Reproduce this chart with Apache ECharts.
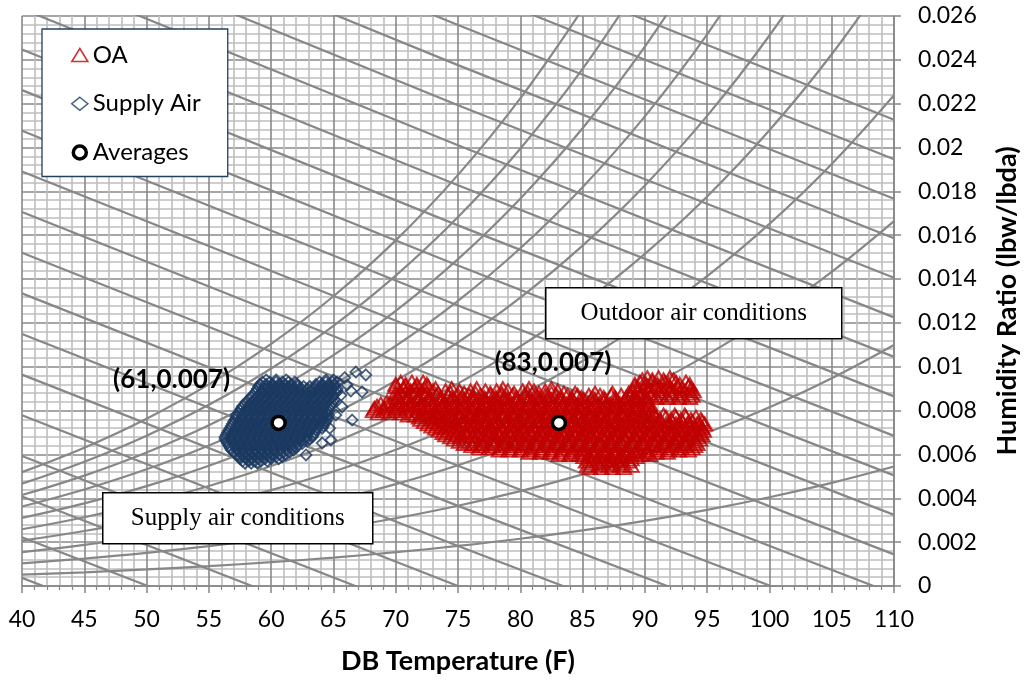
<!DOCTYPE html>
<html><head><meta charset="utf-8">
<script src="https://cdn.jsdelivr.net/npm/echarts@6/dist/echarts.min.js"></script>
<style>html,body{margin:0;padding:0;background:#fff}#c{width:1029px;height:681px}</style>
</head><body><div id="c"></div>
<script>
// ---------- Relative humidity curves (W in lbw/lbda at DB temps) ----------
const rhTemps = [40,45,50,55,60,65,70,75,80,85,90,95,100,105,110];
const rhLevels = [100,90,80,70,60,50,40,30,20,10];
const rh100 = [0.005195,0.006308,0.007631,0.009196,0.011043,0.013216,0.015767,0.018754,0.022244,0.026316];
const rh90 = [0.004671,0.005672,0.006859,0.008264,0.009921,0.011869,0.014154,0.016827,0.019948,0.023585,0.027816];
const rh80 = [0.004149,0.005036,0.006090,0.007335,0.008803,0.010528,0.012550,0.014913,0.017669,0.020877,0.024603,0.028927];
const rh70 = [0.003627,0.004402,0.005322,0.006409,0.007689,0.009192,0.010953,0.013010,0.015405,0.018191,0.021422,0.025165,0.029494];
const rh60 = [0.003106,0.003770,0.004556,0.005485,0.006579,0.007863,0.009365,0.011118,0.013158,0.015527,0.018272,0.021446,0.025110,0.029334];
const rh50 = [0.002587,0.003138,0.003792,0.004564,0.005473,0.006538,0.007785,0.009237,0.010927,0.012886,0.015152,0.017770,0.020786,0.024255,0.028240];
const rh40 = [0.002068,0.002508,0.003030,0.003646,0.004371,0.005220,0.006212,0.007368,0.008711,0.010266,0.012063,0.014135,0.016518,0.019254,0.022389];
const rh30 = [0.001549,0.001879,0.002270,0.002731,0.003272,0.003907,0.004648,0.005510,0.006510,0.007668,0.009004,0.010541,0.012307,0.014329,0.016642];
const rh20 = [0.001032,0.001252,0.001511,0.001818,0.002178,0.002599,0.003091,0.003662,0.004325,0.005091,0.005974,0.006988,0.008151,0.009480,0.010996];
const rh10 = [0.000516,0.000625,0.000755,0.000908,0.001087,0.001297,0.001541,0.001826,0.002155,0.002535,0.002973,0.003475,0.004049,0.004704,0.005450];
const rhCurves = [rh100,rh90,rh80,rh70,rh60,rh50,rh40,rh30,rh20,rh10];

// ---------- Enthalpy lines (Btu/lbda), W at 40, 75 and 110 F ----------
const hLevels = [10,12,14,16,18,20,22,24,26,28,30,32,34,36,38,40,42,44,46,48,50];
const hTemps = [40,75,110];
const hW40  = [0.000371,0.002225,0.004079,0.005933,0.007787,0.009641,0.011494,0.013348,0.015202,0.017056,0.018910,0.020764,0.022618,0.024472,0.026326,0.028180,0.030034,0.031888,0.033742,0.035596,0.037450];
const hW75  = [-0.007311,-0.005483,-0.003655,-0.001828,0,0.001828,0.003655,0.005483,0.007311,0.009138,0.010966,0.012793,0.014621,0.016449,0.018276,0.020104,0.021932,0.023759,0.025587,0.027415,0.029242];
const hW110 = [-0.014777,-0.012975,-0.011173,-0.009371,-0.007569,-0.005767,-0.003965,-0.002163,-0.000360,0.001442,0.003244,0.005046,0.006848,0.008650,0.010452,0.012254,0.014056,0.015858,0.017660,0.019462,0.021264];

// ---------- Outdoor air (OA) readings: rows of humidity ratio with DB temps ----------
const oaRowW = [0.0095,0.0094,0.0093,0.0092,0.0091,0.0090,0.0089,0.0088,0.0087,0.0086,0.0085,0.0084,0.0083,0.0082,0.0081,0.0080,0.0079,0.0078,0.0077,0.0076,0.0075,0.0074,0.0073,0.0072,0.0071,0.0070,0.0069,0.0068,0.0067,0.0066,0.0065,0.0064,0.0063,0.0062,0.0061,0.0060,0.0059,0.0058,0.0057,0.0056,0.0055,0.0054];
const oaRowT = [
 [90.2,91.1,92.0],
 [89.8,90.6,91.5,92.3],
 [70.4,71.3,72.2,89.6,90.6,91.6,92.5,93.3],
 [70.0,70.8,71.7,72.5,89.2,90.1,91.0,91.9,92.8,93.6],
 [70.0,70.8,71.7,72.6,89.2,90.0,90.9,91.8,92.6,93.5],
 [70.6,71.5,72.3,73.2,74.5,76.5,78.6,80.7,82.5,89.5,90.4,91.3,92.1,93.0,93.7],
 [70.3,71.2,72.1,73.0,74.0,75.1,76.0,77.2,78.1,79.0,80.2,81.1,82.0,83.0,89.0,89.8,90.7,91.5,92.4,93.2,93.9],
 [70.0,70.8,71.6,72.5,73.4,74.4,75.5,76.4,77.6,78.5,79.5,80.6,81.5,82.5,83.5,84.4,86.0,87.4,88.7,89.4,90.3,91.1,92.0,92.8,93.6],
 [70.6,71.5,72.4,73.3,74.2,75.0,75.9,76.8,77.6,78.5,79.4,80.3,81.2,82.0,82.9,83.8,84.6,85.5,86.4,87.3,88.1,88.9,89.7,90.5,91.3,92.2,93.0,93.8],
 [70.1,70.9,71.8,72.7,73.6,74.5,75.3,76.2,77.1,78.0,78.8,79.7,80.6,81.5,82.3,83.2,84.1,84.9,85.8,86.7,87.6,88.5,89.3,90.1,90.9,91.8,92.7,93.6],
 [70.2,71.0,71.9,72.8,73.7,74.6,75.5,76.3,77.2,78.1,79.0,79.8,80.7,81.6,82.5,83.3,84.2,85.1,86.0,86.8,87.7,88.5,89.3,90.1],
 [69.3,70.0,70.9,71.8,72.7,73.6,74.4,75.3,76.2,77.1,77.9,78.8,79.7,80.6,81.5,82.3,83.2,84.1,84.9,85.8,86.7,87.6,88.4,89.3,90.1],
 [68.8,69.6,70.5,71.4,72.3,73.2,74.0,74.9,75.8,76.7,77.5,78.4,79.3,80.2,81.1,81.9,82.8,83.7,84.6,85.4,86.3,87.2,88.0,88.9,89.7,90.4],
 [68.5,69.3,70.2,71.1,72.0,72.9,73.7,74.6,75.5,76.4,77.2,78.1,79.0,79.9,80.7,81.6,82.5,83.4,84.2,85.1,86.0,86.9,87.7,88.6,89.5,90.3],
 [68.3,69.1,70.0,70.9,71.8,72.7,73.6,74.4,75.3,76.2,77.0,77.9,78.8,79.7,80.6,81.4,82.3,83.2,84.1,84.9,85.8,86.7,87.6,88.4,89.3,90.1],
 [68.2,69.0,69.9,70.8,71.7,72.6,73.4,74.3,75.2,76.1,76.9,77.8,78.7,79.6,80.4,81.3,82.2,83.1,83.9,84.8,85.7,86.6,87.4,88.3,89.2,90.0,90.6],
 [68.6,69.5,70.4,71.3,72.2,73.1,73.9,74.8,75.7,76.6,77.4,78.3,79.2,80.1,81.0,81.8,82.7,83.6,84.5,85.3,86.2,87.1,88.0,88.8,89.6,90.4],
 [71.0,71.6,72.4,73.3,74.2,75.1,75.9,76.8,77.7,78.6,79.4,80.3,81.2,82.1,82.9,83.8,84.7,85.6,86.4,87.3,88.2,89.0,89.9,90.7,91.5,92.4,93.2],
 [71.9,72.7,73.5,74.4,75.2,76.1,77.0,77.9,78.7,79.6,80.5,81.4,82.2,83.1,84.0,84.8,85.7,86.6,87.5,88.3,89.2,90.0,90.9,91.7,92.5,93.3,94.1],
 [72.0,72.9,73.8,74.6,75.5,76.4,77.3,78.1,79.0,79.9,80.8,81.6,82.5,83.4,84.3,85.1,86.0,86.9,87.8,88.6,89.5,90.4,91.2,92.1,92.9,93.7,94.5],
 [72.3,73.1,74.0,74.8,75.7,76.6,77.4,78.3,79.2,80.1,80.9,81.8,82.7,83.5,84.4,85.3,86.2,87.0,87.9,88.8,89.6,90.5,91.3,92.2,93.0,93.8,94.6],
 [72.6,73.4,74.3,75.2,76.0,76.9,77.8,78.7,79.5,80.4,81.3,82.1,83.0,83.9,84.8,85.6,86.5,87.4,88.2,89.1,90.0,90.8,91.7,92.5,93.4,94.2,94.8],
 [72.9,73.7,74.6,75.4,76.3,77.2,78.0,78.9,79.8,80.6,81.5,82.4,83.3,84.1,85.0,85.9,86.7,87.6,88.5,89.3,90.2,91.0,91.9,92.7,93.6,94.4],
 [73.2,74.0,74.9,75.8,76.6,77.5,78.4,79.2,80.1,81.0,81.8,82.7,83.6,84.4,85.3,86.2,87.0,87.9,88.8,89.6,90.5,91.3,92.2,93.0,93.9,94.6],
 [73.5,74.3,75.1,76.0,76.9,77.7,78.6,79.5,80.3,81.2,82.1,82.9,83.8,84.7,85.5,86.4,87.3,88.1,89.0,89.9,90.7,91.6,92.4,93.3,94.1,94.7],
 [73.8,74.6,75.5,76.4,77.2,78.1,79.0,79.8,80.7,81.6,82.4,83.3,84.2,85.0,85.9,86.8,87.6,88.5,89.4,90.2,91.1,91.9,92.8,93.6,94.4],
 [74.0,74.9,75.7,76.6,77.5,78.3,79.2,80.0,80.9,81.8,82.6,83.5,84.4,85.2,86.1,87.0,87.8,88.7,89.6,90.4,91.3,92.1,93.0,93.8,94.6],
 [74.4,75.2,76.1,77.0,77.8,78.7,79.6,80.4,81.3,82.2,83.0,83.9,84.8,85.6,86.5,87.4,88.2,89.1,90.0,90.8,91.7,92.5,93.4,94.2],
 [74.7,75.5,76.4,77.2,78.1,78.9,79.8,80.7,81.5,82.4,83.3,84.1,85.0,85.9,86.7,87.6,88.4,89.3,90.1,91.0,91.8,92.7,93.5,94.4],
 [75.1,75.9,76.8,77.7,78.5,79.4,80.2,81.1,82.0,82.8,83.7,84.6,85.4,86.3,87.1,88.0,88.9,89.7,90.6,91.4,92.3,93.1,94.0],
 [75.5,76.3,77.1,78.0,78.8,79.7,80.5,81.4,82.2,83.1,84.0,84.8,85.7,86.5,87.4,88.2,89.1,90.0,90.8,91.7,92.5,93.4,94.2],
 [76.1,76.9,77.8,78.6,79.5,80.3,81.2,82.0,82.9,83.8,84.6,85.5,86.3,87.2,88.0,88.9,89.8,90.6,91.5,92.3,93.2,94.0],
 [76.7,77.5,78.4,79.2,80.1,80.9,81.8,82.6,83.5,84.4,85.2,86.1,86.9,87.8,88.6,89.5,90.4,91.2,92.1,92.9,93.8],
 [78.3,79.1,80.0,80.8,81.7,82.5,83.4,84.2,85.1,85.9,86.8,87.6,88.5,89.3,90.2,91.0,91.9,92.7,93.5],
 [80.7,81.6,82.4,83.3,84.1,85.0,85.8,86.7,87.5,88.4,89.2,90.1,90.9,91.8],
 [83.1,84.0,84.7,85.5,86.4,87.2,88.1,88.9,89.7,90.4],
 [85.1,85.9,86.8,87.6,88.5,89.3],
 [85.5,86.4,87.2,88.1,88.9],
 [85.3,86.1,87.0,87.8,88.7],
 [85.7,86.6,87.4,88.3],
 [85.4,86.3,87.1,88.0,88.9],
 [85.6,86.5,87.4,88.3]
];

// ---------- Supply air readings ----------
const saRowW = [0.0094,0.0093,0.0092,0.0091,0.0090,0.0089,0.0088,0.0087,0.0086,0.0085,0.0084,0.0083,0.0082,0.0081,0.0080,0.0079,0.0078,0.0077,0.0076,0.0075,0.0074,0.0073,0.0072,0.0071,0.0070,0.0069,0.0068,0.0067,0.0066,0.0065,0.0064,0.0063,0.0062,0.0061,0.0060,0.0059,0.0058,0.0057,0.0056];
const saRowT = [
 [59.6,60.4,61.2,64.4,65.0],
 [59.3,59.9,60.4,60.9,61.4,61.9,63.9,64.4,64.9,65.3],
 [59.1,59.6,60.1,60.6,61.1,61.6,62.1,63.6,64.1,64.6,65.1],
 [59.0,59.6,60.1,60.6,61.1,61.6,62.1,62.6,63.1,63.6,64.1,64.6,65.1],
 [58.9,59.4,59.9,60.4,60.9,61.4,61.9,62.4,62.9,63.4,63.9,64.4,64.9,65.3],
 [58.8,59.3,59.8,60.3,60.8,61.3,61.8,62.3,62.8,63.3,63.8,64.3,64.8,65.3],
 [58.7,59.2,59.7,60.2,60.7,61.2,61.7,62.2,62.7,63.2,63.7,64.2,64.7,65.2],
 [58.5,59.0,59.5,60.0,60.5,61.0,61.5,62.0,62.5,63.0,63.5,64.0,64.5,65.0],
 [58.4,58.9,59.4,59.9,60.4,60.9,61.4,61.9,62.4,62.9,63.4,63.9,64.4,64.9],
 [58.2,58.7,59.2,59.7,60.2,60.7,61.2,61.7,62.2,62.7,63.2,63.7,64.2,64.7,65.1],
 [58.0,58.5,59.0,59.5,60.0,60.5,61.0,61.5,62.0,62.5,63.0,63.5,64.0,64.5,65.0],
 [57.9,58.4,58.9,59.4,59.9,60.4,60.9,61.4,61.9,62.4,62.9,63.4,63.9,64.4,64.9],
 [57.7,58.2,58.7,59.2,59.7,60.2,60.7,61.2,61.7,62.2,62.7,63.2,63.7,64.2,64.8],
 [57.6,58.1,58.6,59.1,59.6,60.1,60.6,61.1,61.6,62.1,62.6,63.1,63.6,64.1,64.6],
 [57.5,58.0,58.5,59.0,59.5,60.0,60.5,61.0,61.5,62.0,62.5,63.0,63.5,64.0,64.5],
 [57.4,57.9,58.4,58.9,59.4,59.9,60.4,60.9,61.4,61.9,62.4,62.9,63.4,63.9,64.4],
 [57.2,57.7,58.2,58.7,59.2,59.7,60.2,60.7,61.2,61.7,62.2,62.7,63.2,63.7,64.2,64.6],
 [57.2,57.7,58.2,58.7,59.2,59.7,60.2,60.7,61.2,61.7,62.2,62.7,63.2,63.7,64.2,64.5],
 [57.1,57.6,58.1,58.6,59.1,59.6,60.1,60.6,61.1,61.6,62.1,62.6,63.1,63.6,64.1,64.5],
 [57.0,57.5,58.0,58.5,59.0,59.5,60.0,60.5,61.0,61.5,62.0,62.5,63.0,63.5,64.0,64.4],
 [56.9,57.4,57.9,58.4,58.9,59.4,59.9,60.4,60.9,61.4,61.9,62.4,62.9,63.4,63.9,64.3],
 [56.8,57.3,57.8,58.3,58.8,59.3,59.8,60.3,60.8,61.3,61.8,62.3,62.8,63.3,63.8,64.2],
 [56.7,57.2,57.7,58.2,58.7,59.2,59.7,60.2,60.7,61.2,61.7,62.2,62.7,63.2,63.7,64.1],
 [56.6,57.1,57.6,58.1,58.6,59.1,59.6,60.1,60.6,61.1,61.6,62.1,62.6,63.1,63.6],
 [56.5,57.0,57.5,58.0,58.5,59.0,59.5,60.0,60.5,61.0,61.5,62.0,62.5,63.0,63.5],
 [56.4,56.9,57.4,57.9,58.4,58.9,59.4,59.9,60.4,60.9,61.4,61.9,62.4,62.9,63.4],
 [56.3,56.8,57.3,57.8,58.3,58.8,59.3,59.8,60.3,60.8,61.3,61.8,62.3,62.8,63.3],
 [56.3,56.8,57.3,57.8,58.3,58.8,59.3,59.8,60.3,60.8,61.3,61.8,62.3,62.8,63.1],
 [56.4,56.9,57.4,57.9,58.4,58.9,59.4,59.9,60.4,60.9,61.4,61.9,62.4,62.9],
 [56.5,57.0,57.5,58.0,58.5,59.0,59.5,60.0,60.5,61.0,61.5,62.0,62.5],
 [56.6,57.1,57.6,58.1,58.6,59.1,59.6,60.1,60.6,61.1,61.6,62.1],
 [56.7,57.2,57.7,58.2,58.7,59.2,59.7,60.2,60.7,61.2,61.7,62.0],
 [56.8,57.3,57.8,58.3,58.8,59.3,59.8,60.3,60.8,61.3,61.8],
 [57.0,57.5,58.0,58.5,59.0,59.5,60.0,60.5,61.0,61.5],
 [57.2,57.7,58.2,58.7,59.2,59.7,60.2,60.7,61.2],
 [57.4,57.9,58.4,58.9,59.4,59.9,60.4,60.9],
 [57.5,58.0,58.5,59.0,59.5,60.0,60.6],
 [57.7,58.2,58.7,59.2,59.7],
 [57.9,58.4,58.9]
];
const saExtraT = [66.8,67.6,67.3,66.1,65.7,66.5,64.8,64.1,62.8,65.9,66.4,65.6,65.2,64.7];
const saExtraW = [0.00976,0.00963,0.00885,0.00917,0.00817,0.00757,0.00666,0.00652,0.00598,0.0095,0.0089,0.0087,0.0078,0.0072];

// ---------- Averages ----------
const avgT = [60.6,83.1];
const avgW = [0.00744,0.00744];

// ---------- build ----------
const LINE = '#878787';
const series = [];
rhCurves.forEach((arr,i)=>{
  series.push({type:'line', name:'RH '+rhLevels[i]+'%', data:arr.map((w,j)=>[rhTemps[j],w]),
    showSymbol:false, symbol:'none', smooth:0.4, silent:true, z:1,
    lineStyle:{color:LINE,width:2.2}});
});
hLevels.forEach((h,i)=>{
  series.push({type:'line', name:'h '+h, data:[[hTemps[0],hW40[i]],[hTemps[1],hW75[i]],[hTemps[2],hW110[i]]],
    showSymbol:false, symbol:'none', silent:true, z:1, lineStyle:{color:LINE,width:2.2}});
});
const oaData=[]; oaRowW.forEach((w,i)=>oaRowT[i].forEach(t=>oaData.push([t,w])));
const saData=[]; saRowW.forEach((w,i)=>saRowT[i].forEach(t=>saData.push([t,w])));
saExtraT.forEach((t,i)=>saData.push([t,saExtraW[i]]));
series.push({type:'scatter', name:'OA', data:oaData, symbol:'triangle', symbolSize:[15,13], z:3, silent:true,
  itemStyle:{color:'rgba(0,0,0,0)', borderColor:'#C00000', borderWidth:2}});
series.push({type:'scatter', name:'Supply Air', data:saData, symbol:'diamond', symbolSize:11, z:3, silent:true,
  itemStyle:{color:'rgba(0,0,0,0)', borderColor:'#1B3A61', borderWidth:1.8}});
const labelOffsets = [[-107,-43],[-6,-60]];
series.push({type:'scatter', name:'Averages', z:5, symbol:'circle', symbolSize:13, silent:true,
  itemStyle:{color:'#ffffff', borderColor:'#000000', borderWidth:3.5, opacity:1},
  data: avgT.map((t,i)=>({value:[t,avgW[i]], label:{offset:labelOffsets[i]}})),
  label:{show:true, position:'inside', fontSize:26, fontWeight:'bold', color:'#000', fontFamily:'Lato',
    formatter:p=>'('+Math.round(p.value[0])+','+p.value[1].toFixed(3)+')'}});

const AX = '#868686';
const option = {
  animation:false,
  textStyle:{fontFamily:'Lato'},
  grid:{left:22, top:16, width:874, height:570, containLabel:false},
  xAxis:{type:'value', min:40, max:110, interval:5,
    axisLine:{show:true, onZero:false, lineStyle:{color:AX,width:1.5}},
    axisTick:{show:true, length:7, lineStyle:{color:AX,width:1.5}},
    minorTick:{show:true, splitNumber:5, length:4, lineStyle:{color:AX,width:1.2}},
    splitLine:{show:true, lineStyle:{color:'#888888',width:1.6}},
    minorSplitLine:{show:true, lineStyle:{color:'#BEBEBE',width:1.6}},
    axisLabel:{fontSize:23, color:'#000', margin:22, fontFamily:'Lato'},
    name:'DB Temperature (F)', nameLocation:'middle', nameGap:62,
    nameTextStyle:{fontSize:27, fontWeight:'bold', color:'#000', fontFamily:'Lato'}},
  yAxis:{type:'value', position:'right', min:0, max:0.026, interval:0.002,
    axisLine:{show:true, onZero:false, lineStyle:{color:AX,width:1.5}},
    axisTick:{show:true, length:7, lineStyle:{color:AX,width:1.5}},
    minorTick:{show:false, splitNumber:5},
    splitLine:{show:true, lineStyle:{color:'#888888',width:1.6}},
    minorSplitLine:{show:true, lineStyle:{color:'#BEBEBE',width:1.6}},
    axisLabel:{fontSize:23, color:'#000', margin:24, fontFamily:'Lato'},
    name:'Humidity Ratio (lbw/lbda)', nameLocation:'middle', nameRotate:90, nameGap:100,
    nameTextStyle:{fontSize:27, fontWeight:'bold', color:'#000', fontFamily:'Lato'}},
  legend:{
    data:[{name:'OA', itemStyle:{borderWidth:1.6}}, {name:'Supply Air', itemStyle:{borderWidth:1.6}}, {name:'Averages', itemStyle:{borderWidth:3.5, color:'#ffffff'}}],
    orient:'vertical', left:42, top:29, padding:[12,27,10,29], itemGap:20.75, itemWidth:16, itemHeight:13,
    backgroundColor:'#fff', borderColor:'#243F60', borderWidth:1.3, selectedMode:false, z:10,
    textStyle:{fontSize:24, fontFamily:'Lato', color:'#000', lineHeight:28}},
  graphic:[
    {type:'group', left:545, top:287, z:100, children:[
      {type:'rect', z:100, shape:{x:0,y:0,width:296,height:51}, style:{fill:'#fff', stroke:'#000', lineWidth:1.5}},
      {type:'text', z:101, x:148, y:26, style:{text:'Outdoor air conditions', fontSize:25, fontFamily:'Liberation Serif', fill:'#000', align:'center', verticalAlign:'middle'}}]},
    {type:'group', left:102, top:492, z:100, children:[
      {type:'rect', z:100, shape:{x:0,y:0,width:270,height:51}, style:{fill:'#fff', stroke:'#000', lineWidth:1.5}},
      {type:'text', z:101, x:135, y:26, style:{text:'Supply air conditions', fontSize:25, fontFamily:'Liberation Serif', fill:'#000', align:'center', verticalAlign:'middle'}}]}
  ],
  series
};
const chart = echarts.init(document.getElementById('c'), null, {renderer:'canvas'});
chart.setOption(option);
</script></body></html>
